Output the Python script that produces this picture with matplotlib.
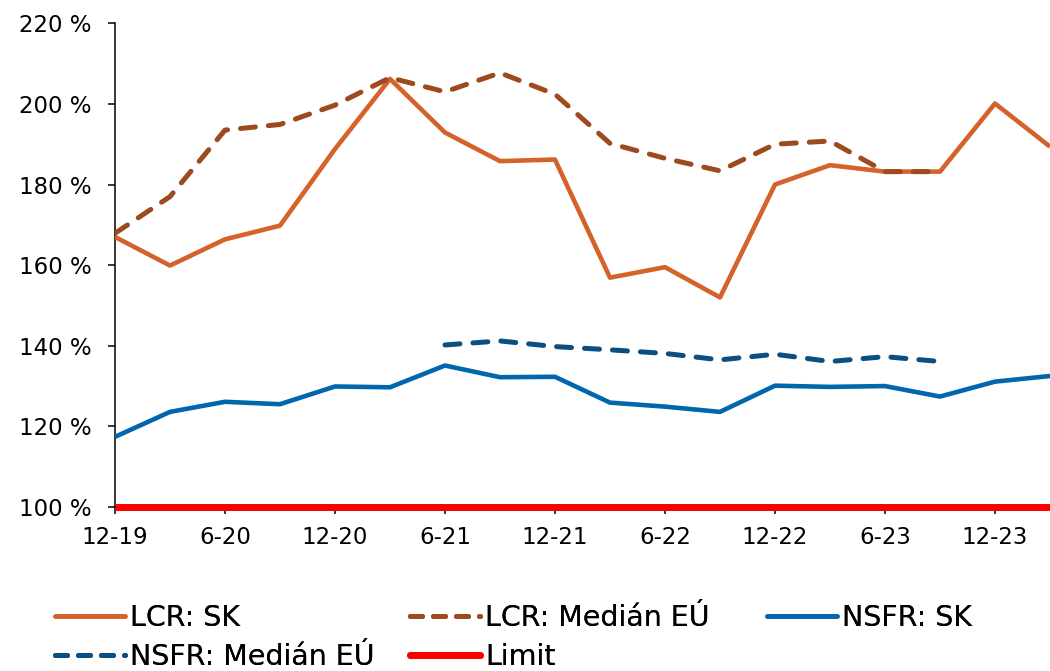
import matplotlib
matplotlib.use("Agg")
import matplotlib.pyplot as plt
from matplotlib.lines import Line2D
import numpy as np

# Quarterly observations, Dec 2019 – Mar 2024
quarters = ["12-19", "3-20", "6-20", "9-20", "12-20", "3-21", "6-21", "9-21",
            "12-21", "3-22", "6-22", "9-22", "12-22", "3-23", "6-23", "9-23",
            "12-23", "3-24"]
tick_labels = ["12-19", "6-20", "12-20", "6-21", "12-21", "6-22", "12-22", "6-23", "12-23"]

lcr_sk = [167.0, 159.9, 166.4, 169.8, 188.8, 206.2, 192.9, 185.8, 186.2,
          156.9, 159.5, 152.0, 180.0, 184.8, 183.2, 183.2, 200.1, 189.4]
lcr_eu = [167.9, 177.0, 193.5, 194.9, 199.7, 206.5, 203.0, 207.7, 202.4,
          190.2, 186.5, 183.4, 190.0, 190.8, 183.2, 183.2]
nsfr_sk = [117.4, 123.6, 126.1, 125.5, 129.9, 129.7, 135.1, 132.2, 132.3,
           125.9, 124.9, 123.6, 130.1, 129.8, 130.0, 127.4, 131.1, 132.5]
nsfr_eu_start = 6
nsfr_eu = [140.2, 141.2, 139.8, 139.0, 138.1, 136.5, 137.9, 136.1, 137.3, 136.1]
limit = [100.0] * len(quarters)

c_lcr_sk = "#D5622A"
c_lcr_eu = "#9C4A1E"
c_nsfr_sk = "#0066AD"
c_nsfr_eu = "#0B4F82"
c_limit = "#FF0000"

plt.rcParams["font.family"] = ["DejaVu Sans"]

fig = plt.figure(figsize=(10.5, 6.71), dpi=100)
ax = fig.add_axes([0.1095, 0.2444, 0.8905, 0.7209])

x = np.arange(len(quarters))
lw = 3.3
ax.plot(x, lcr_sk, color=c_lcr_sk, lw=lw, solid_capstyle="butt", label="LCR: SK", zorder=3)
ax.plot(x[:len(lcr_eu)], lcr_eu, color=c_lcr_eu, lw=lw + 0.3, dashes=(3.0, 2.6),
        dash_capstyle="round", label="LCR: Medián EÚ", zorder=4)
ax.plot(x, nsfr_sk, color=c_nsfr_sk, lw=lw, solid_capstyle="butt", label="NSFR: SK", zorder=3)
ax.plot(x[nsfr_eu_start:nsfr_eu_start + len(nsfr_eu)], nsfr_eu, color=c_nsfr_eu,
        lw=lw + 0.3, dashes=(3.0, 2.6), dash_capstyle="round",
        label="NSFR: Medián EÚ", zorder=4)
ax.plot(x, limit, color=c_limit, lw=5.0, solid_capstyle="butt", label="Limit",
        zorder=5, clip_on=False)

ax.set_xlim(0, len(quarters) - 1)
ax.set_ylim(100, 220)
ax.set_yticks(np.arange(100, 221, 20))
ax.set_yticklabels([f"{v} %" for v in range(100, 221, 20)])
ax.set_xticks([quarters.index(t) for t in tick_labels])
ax.set_xticklabels(tick_labels)

for side in ("top", "right"):
    ax.spines[side].set_visible(False)
for side in ("left", "bottom"):
    ax.spines[side].set_linewidth(1.1)
    ax.spines[side].set_color("black")
ax.tick_params(axis="y", length=5, width=1.1, pad=12, labelsize=16.5)
ax.tick_params(axis="x", length=5, width=1.1, pad=9, labelsize=16.5)

# Legend laid out in three fixed columns
def handle(color, lw, dashed):
    if dashed:
        return Line2D([], [], color=color, lw=lw, dashes=(2.4, 2.2), dash_capstyle="round")
    return Line2D([], [], color=color, lw=lw, solid_capstyle="round")

columns = [
    (55, [(handle(c_lcr_sk, lw, False), "LCR: SK"),
          (handle(c_nsfr_eu, lw + 0.3, True), "NSFR: Medián EÚ")]),
    (410, [(handle(c_lcr_eu, lw + 0.3, True), "LCR: Medián EÚ"),
           (handle(c_limit, 5.0, False), "Limit")]),
    (767, [(handle(c_nsfr_sk, lw, False), "NSFR: SK")]),
]
W, H = 1050, 671
for xpix, entries in columns:
    leg = fig.legend([e[0] for e in entries], [e[1] for e in entries],
                     loc="upper left", bbox_to_anchor=(xpix / W, 1 - 604 / H),
                     frameon=False, fontsize=20.5, handlelength=2.45,
                     handletextpad=0.2, labelspacing=0.38, borderpad=0,
                     borderaxespad=0)
    fig.add_artist(leg)

fig.savefig("out.png", dpi=100)
